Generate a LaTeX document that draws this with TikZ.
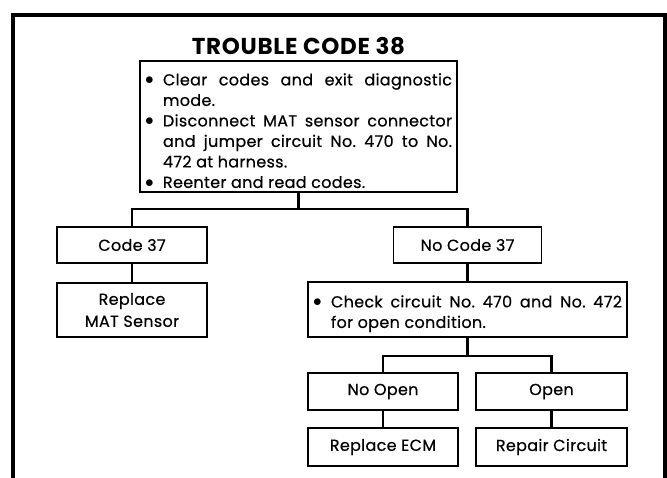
\documentclass[tikz,border=0pt]{standalone}
\usepackage{fontspec}
\setmainfont{Poppins}
\newfontfamily\bodyfont{Poppins}[FakeBold=0.5,LetterSpace=2]
\newfontfamily\titlefont{Poppins Bold}[LetterSpace=3]
\newcommand\bitem[1]{\par\noindent\hangindent=18pt\hangafter=1\makebox[18pt][l]{\raisebox{0.5pt}{\fontsize{19}{19}\selectfont$\bullet$}}#1\par}
\tikzset{
  bx/.style={draw, line width=1.8pt, inner sep=0pt, font=\bodyfont\fontsize{16}{22}\selectfont\frenchspacing, align=center},
  lst/.style={draw, line width=1.8pt, inner xsep=5pt, inner ysep=0pt, align=justify, font=\bodyfont\fontsize{16}{20.5}\selectfont\frenchspacing},
  conn/.style={line width=2.4pt},
  frame/.style={line width=4pt}
}
\begin{document}
\begin{tikzpicture}[x=1pt,y=-1pt]
\useasboundingbox (0,0) rectangle (667,477);
\draw[frame] (13,480) -- (13,14.5) -- (664.5,14.5) -- (664.5,480);
\node[font=\titlefont\fontsize{23}{26}\selectfont, inner sep=0pt] (title) at (298.5,46) {TROUBLE CODE 38};
\node[lst, text width=307pt, minimum height=131pt] (top) at (298.5,126.5) {%
\bitem{Clear codes and exit diagnostic\linebreak mode.}
\bitem{Disconnect MAT sensor connector\linebreak and jumper circuit No. 470 to No.\linebreak 472 at harness.}
\bitem{Reenter and read codes.}};
\node[bx, minimum width=150pt, minimum height=36pt] (c37) at (132,245) {Code 37};
\node[bx, minimum width=150pt, minimum height=54pt] (rms) at (132,310) {Replace\\MAT Sensor};
\node[bx, minimum width=148pt, minimum height=36pt] (nc37) at (467.5,245) {No Code 37};
\node[lst, text width=309pt, minimum height=55pt] (chk) at (467.5,309.5) {%
\bitem{Check circuit No. 470 and No. 472\linebreak for open condition.}};
\node[bx, minimum width=150pt, minimum height=37pt] (nop) at (383,391.5) {No Open};
\node[bx, minimum width=151pt, minimum height=37pt] (op) at (551.5,391.5) {Open};
\node[bx, minimum width=150pt, minimum height=38pt] (rec) at (383,447) {Replace ECM};
\node[bx, minimum width=151pt, minimum height=38pt] (rc) at (551.5,447) {Repair Circuit};
\coordinate (j1) at (298.5,209);
\coordinate (j2) at (467.5,356);
\draw[conn] (top.south) -- (j1);
\draw[conn] (j1) -| (c37.north);
\draw[conn] (j1) -| (nc37.north);
\draw[conn] (c37.south) -- (rms.north);
\draw[conn] (nc37.south) -- (chk.north);
\draw[conn] (chk.south) -- (j2);
\draw[conn] (j2) -| (nop.north);
\draw[conn] (j2) -| (op.north);
\draw[conn] (nop.south) -- (rec.north);
\draw[conn] (op.south) -- (rc.north);
\end{tikzpicture}
\end{document}
